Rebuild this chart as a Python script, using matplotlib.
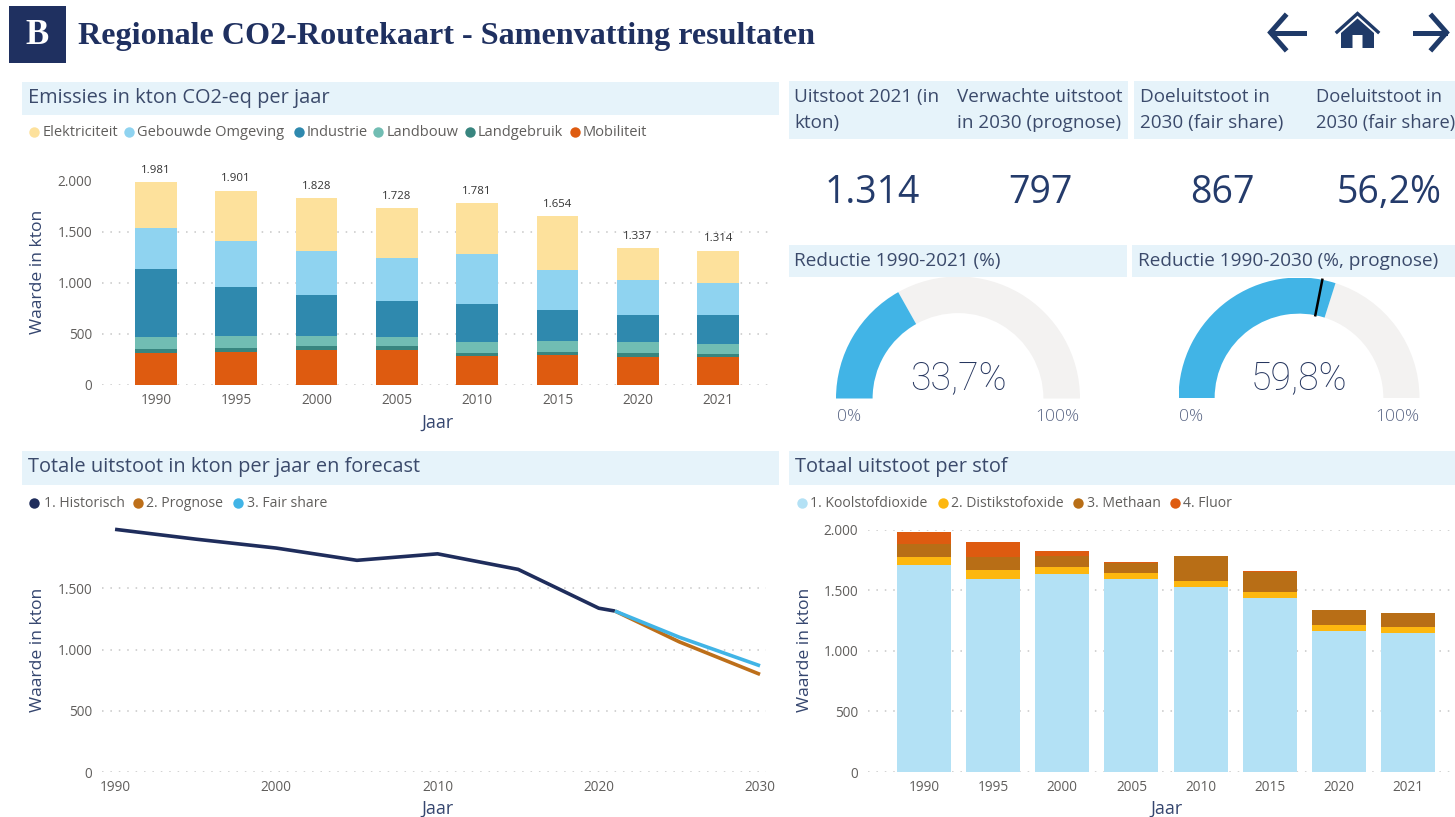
import matplotlib
matplotlib.use("Agg")
import numpy as np
import matplotlib.pyplot as plt
from matplotlib.patches import Rectangle, Wedge, Polygon
from matplotlib.ticker import FuncFormatter

plt.rcParams["font.family"] = ["Open Sans", "DejaVu Sans"]

# Data
jaren = ["1990", "1995", "2000", "2005", "2010", "2015", "2020", "2021"]
jaren_num = [1990, 1995, 2000, 2005, 2010, 2015, 2020, 2021]
totaal = [1981, 1901, 1828, 1728, 1781, 1654, 1337, 1314]

mobiliteit = [313, 326, 342, 342, 283, 290, 277, 270]
landgebruik = [39, 36, 39, 36, 33, 36, 36, 33]
landbouw = [117, 117, 101, 94, 107, 104, 104, 101]
industrie = [668, 482, 394, 345, 372, 300, 267, 277]
gebouwde = [400, 443, 433, 421, 488, 390, 339, 312]
elektriciteit = [444, 497, 519, 490, 498, 534, 314, 321]

co2 = [1706, 1596, 1634, 1593, 1524, 1439, 1164, 1150]
n2o = [71, 74, 61, 52, 50, 49, 49, 47]
methaan = [105, 102, 85, 83, 207, 166, 122, 115]
fluor = [99, 129, 48, 2, 2, 2, 2, 2]

prognose_jaren = [2021, 2025, 2030]
prognose = [1314, 1062, 797]
fair_jaren = [2021, 2025, 2030]
fair_share = [1314, 1100, 867]

reductie_2021 = 33.7
reductie_2030 = 59.8
doel_reductie = 56.2

sector_labels = ["Elektriciteit", "Gebouwde Omgeving", "Industrie", "Landbouw", "Landgebruik", "Mobiliteit"]
sector_colors = ["#FDE19C", "#8FD3F0", "#2F89AE", "#71BDB3", "#38857F", "#DE5B10"]
line_labels = ["1. Historisch", "2. Prognose", "3. Fair share"]
line_colors = ["#1F2D5C", "#BD6F1A", "#41B4E6"]
stof_labels = ["1. Koolstofdioxide", "2. Distikstofoxide", "3. Methaan", "4. Fluor"]
stof_colors = ["#B3E1F5", "#FDB70F", "#B86E16", "#DE5B10"]

W, H = 1455, 817
NAVY = "#1F3060"
PANEL = "#E6F3FA"
HEAD = "#3B4A6B"
GREY = "#605E5C"
AXIS = "#35466F"

fig = plt.figure(figsize=(W / 100, H / 100), dpi=100, facecolor="white")

# overlay in pixel coordinates for the report furniture
lay = fig.add_axes([0, 0, 1, 1], zorder=0)
lay.set_xlim(0, W)
lay.set_ylim(H, 0)
lay.axis("off")


def px_axes(left, top, right, bottom):
    ax = fig.add_axes([left / W, 1 - bottom / H, (right - left) / W, (bottom - top) / H], zorder=2)
    ax.patch.set_alpha(0)
    return ax


def panel(x0, y0, x1, y1):
    lay.add_patch(Rectangle((x0, y0), x1 - x0, y1 - y0, color=PANEL, lw=0))


def head(x, y, s, size=14.4):
    lay.text(x, y + 1, s, fontsize=size, color=HEAD, va="center", ha="left")


def legend(y, markers, texts, labels, colors, size):
    for mx, tx, lab, col in zip(markers, texts, labels, colors):
        lay.plot([mx], [y], "o", ms=7.5, color=col, mec="none")
        lay.text(tx, y + 0.5, lab, fontsize=size, color=GREY, va="center", ha="left")


def style_axes(ax, ylab_x, ylab_y, xlab_x, xlab_y, ticks=(0, 500, 1000, 1500, 2000), pad=6):
    for s in ax.spines.values():
        s.set_visible(False)
    ax.set_yticks(list(ticks))
    ax.yaxis.set_major_formatter(FuncFormatter(lambda v, p: f"{int(v):,}".replace(",", ".")))
    ax.tick_params(length=0, labelsize=9.8, labelcolor=GREY, pad=pad)
    ax.tick_params(axis="y", pad=7)
    ax.grid(axis="y", color="#C6C6C6", lw=1.1, linestyle=(0, (1, 4.5)))
    ax.set_axisbelow(True)
    ax.set_ylabel("Waarde in kton", fontsize=12.6, color=AXIS)
    ax.set_xlabel("Jaar", fontsize=13, color=AXIS)
    ax.yaxis.set_label_coords(ylab_x, ylab_y, transform=lay.transData)
    ax.xaxis.set_label_coords(xlab_x, xlab_y, transform=lay.transData)
    ax.yaxis.label.set_va("center")
    ax.xaxis.label.set_va("center")


def stacked(ax, series, colors, width):
    base = np.zeros(len(jaren))
    pos = np.arange(len(jaren))
    for vals, col in zip(series, colors):
        ax.bar(pos, vals, width, bottom=base, color=col, edgecolor="none")
        base = base + np.array(vals)
    ax.set_xticks(pos)
    ax.set_xticklabels(jaren)


# header
lay.add_patch(Rectangle((8.5, 6), 57.5, 57, color=NAVY, lw=0))
lay.text(37, 35, "B", fontsize=25, color="white", family="Liberation Serif", weight="bold", ha="center", va="center")
lay.text(78, 36, "Regionale CO2-Routekaart - Samenvatting resultaten", fontsize=23.1, color=NAVY,
         family="Liberation Serif", weight="bold", ha="left", va="center")

# navigation icons
ic = "#1F3A68"
lay.plot([1285, 1270.5, 1285], [16, 32.5, 49], color=ic, lw=3.6, solid_joinstyle="miter")
lay.plot([1272, 1304], [32.5, 32.5], color=ic, lw=3.6)
lay.plot([1432, 1446.5, 1432], [16, 32.5, 49], color=ic, lw=3.6, solid_joinstyle="miter")
lay.plot([1415, 1445], [32.5, 32.5], color=ic, lw=3.6)
lay.plot([1337, 1357.5, 1378], [32, 13.5, 32], color=ic, lw=2.4, solid_joinstyle="miter")
lay.add_patch(Polygon([(1357.5, 18.5), (1374, 33), (1374, 48), (1362.5, 48), (1362.5, 35), (1352.5, 35),
                       (1352.5, 48), (1341, 48), (1341, 33)], color=ic, lw=0))

# section bars
panel(22, 82, 779, 115)
panel(789, 81, 952, 139)
panel(952, 81, 1128, 139)
panel(1134, 81, 1455, 139)
panel(789, 245, 1127, 277)
panel(1132, 245, 1455, 277)
panel(22, 451, 779, 485)
panel(789, 451, 1455, 485)

head(28, 97, "Emissies in kton CO2-eq per jaar")
head(28, 466, "Totale uitstoot in kton per jaar en forecast")
head(795, 466, "Totaal uitstoot per stof")
head(794, 260, "Reductie 1990-2021 (%)", 13.7)
head(1138, 260, "Reductie 1990-2030 (%, prognose)", 13.7)
for x, l1, l2, size in [(794, "Uitstoot 2021 (in", "kton)", 13.6),
                        (957, "Verwachte uitstoot", "in 2030 (prognose)", 13.6),
                        (1140, "Doeluitstoot in", "2030 (fair share)", 13.6),
                        (1316, "Doeluitstoot in", "2030 (fair share)", 13.2)]:
    head(x, 95.5, l1, size)
    head(x, 121.5, l2, size)

# KPI numbers
for x, s in [(872, "1.314"), (1040, "797"), (1222, "867"), (1389.5, "56,2%")]:
    lay.text(x, 192.5, s, fontsize=27, color="#243B6B", ha="center", va="center")

# legends
legend(132, [34, 129, 298.5, 377.5, 470, 574.5], [43, 137, 307, 386.5, 478, 583], sector_labels, sector_colors, 10.5)
legend(502.5, [34, 138, 238], [44, 146, 247], line_labels, line_colors, 10.1)
legend(502.5, [801.5, 942.5, 1078, 1175], [810, 951, 1087, 1183], stof_labels, stof_colors, 10.1)

# emissions per sector
ax1 = px_axes(102, 180.5, 772, 385)
stacked(ax1, [mobiliteit, landgebruik, landbouw, industrie, gebouwde, elektriciteit],
        sector_colors[::-1], 0.52)
ax1.set_xlim(-0.67, 7.67)
ax1.set_ylim(0, 2000)
style_axes(ax1, 38, 272, 438, 423)
for i, v in enumerate(totaal):
    ax1.annotate(f"{v:,}".replace(",", "."), (i, v), xytext=(0, 4.5), textcoords="offset points",
                 ha="center", va="bottom", fontsize=8.2, color="#333333", annotation_clip=False)

# total and forecast
ax2 = px_axes(102, 527, 766, 772)
ax2.plot(jaren_num, totaal, color=line_colors[0], lw=2.6, solid_capstyle="butt")
ax2.plot(prognose_jaren, prognose, color=line_colors[1], lw=2.6, solid_capstyle="butt")
ax2.plot(fair_jaren, fair_share, color=line_colors[2], lw=2.6, solid_capstyle="butt")
ax2.set_xlim(1989.19, 2030.37)
ax2.set_ylim(0, 2000)
ax2.set_xticks([1990, 2000, 2010, 2020, 2030])
style_axes(ax2, 38, 650, 437, 809, ticks=(0, 500, 1000, 1500))

# per substance
ax3 = px_axes(868, 529.7, 1453, 772)
stacked(ax3, [co2, n2o, methaan, fluor], stof_colors, 0.78)
ax3.set_xlim(-0.81, 7.65)
ax3.set_ylim(0, 2000)
style_axes(ax3, 805, 650, 1166.5, 809)


# gauges
def gauge(cx, r, cy, value, small_l, small_r, target=None):
    ax = px_axes(cx - r, cy - r, cx + r, cy)
    ax.set_xlim(-1, 1)
    ax.set_ylim(0, 1)
    ax.axis("off")
    split = 180 - value * 1.8
    ax.add_patch(Wedge((0, 0), 1, 0, split, width=0.3, color="#F3F2F1", lw=0))
    ax.add_patch(Wedge((0, 0), 1, split, 180, width=0.3, color="#41B4E6", lw=0))
    if target is not None:
        t = np.deg2rad(180 - target * 1.8)
        ax.plot([0.7 * np.cos(t), np.cos(t)], [0.7 * np.sin(t), np.sin(t)], color="black", lw=1.8)
    lay.text(cx, cy - 20, f"{value:.1f}".replace(".", ",") + "%", fontsize=27, color="#26365F",
             family=["Roboto", "Open Sans"], weight="light", ha="center", va="center")
    lay.text(small_l, 416.5, "0%", fontsize=12.5, color="#5A6685", ha="center", va="center", weight="light")
    lay.text(small_r, 416.5, "100%", fontsize=12.5, color="#5A6685", ha="center", va="center", weight="light")


gauge(958, 122, 398.5, reductie_2021, 849, 1057.5)
gauge(1299, 120.5, 398, reductie_2030, 1191, 1397.5, target=doel_reductie)

fig.savefig("out.png", dpi=100)
